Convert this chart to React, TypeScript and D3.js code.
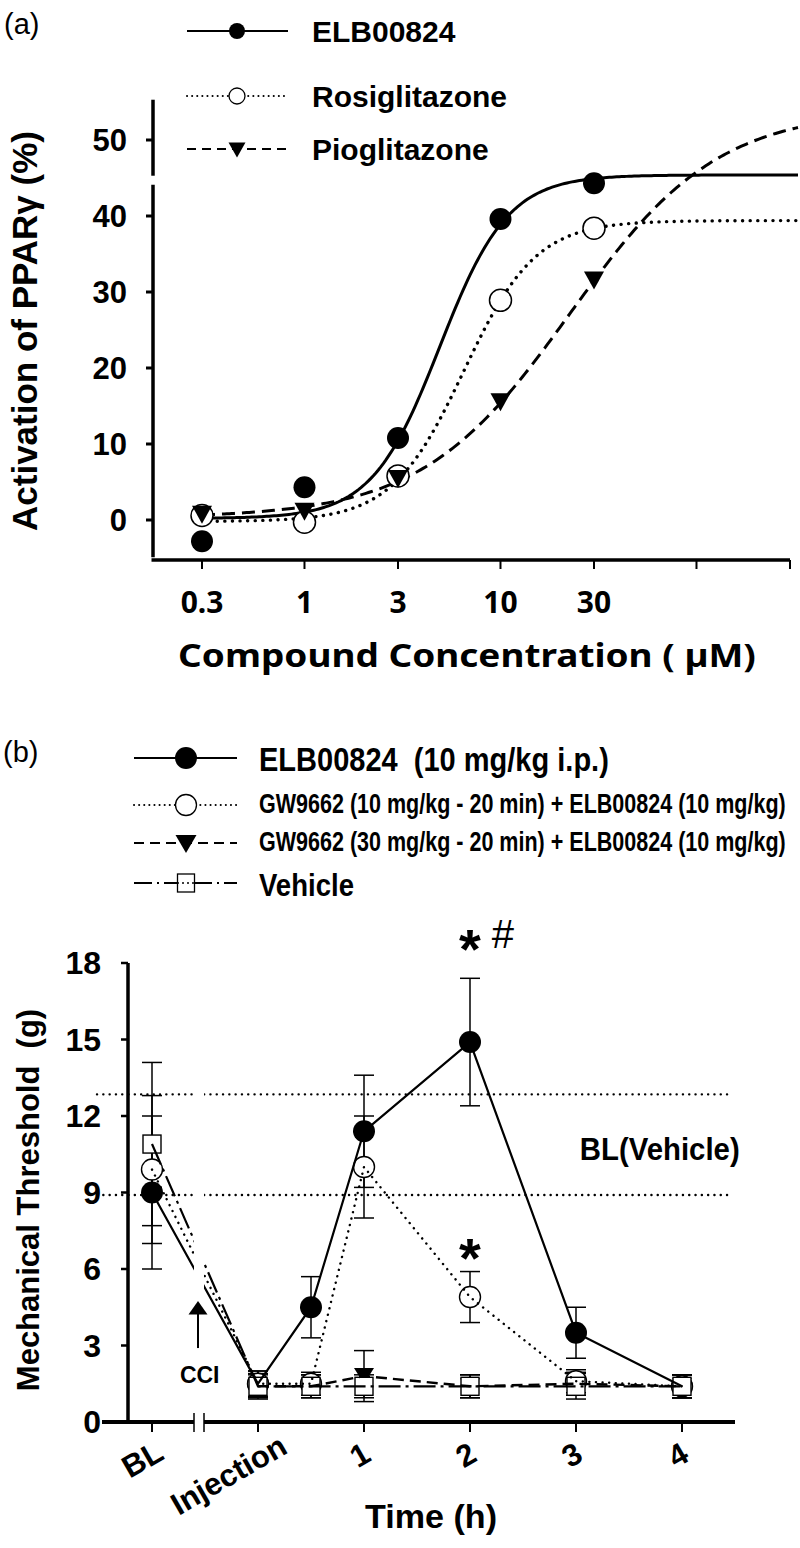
import React, { useLayoutEffect, useRef, useState } from "react";
import * as d3 from "d3";

// ---------- Panel (a) data ----------
const concentrations = [0.3, 1, 3, 10, 30];
const concTickValues = [0.3, 1, 3, 10, 30, 100, 300];
const concTickLabels = ["0.3", "1", "3", "10", "30", "", ""];
const elbActivation = [-2.8, 4.3, 10.8, 39.6, 44.3];
const rosiActivation = [0.6, -0.3, 5.8, 28.9, 38.4];
const pioActivation = [0.7, 1.1, 5.4, 15.5, 31.5];
// fitted 4-parameter logistic curves: [bottom, top, EC50, hill]
const elbFit = [0.2, 45.4, 4.9, 2.5];
const rosiFit = [-0.2, 39.4, 6.5, 2.36];
const pioFit = [0.3, 54, 22.6, 1.15];
const activationTicks = [0, 10, 20, 30, 40, 50];
const legendA = ["ELB00824", "Rosiglitazone", "Pioglitazone"];

// ---------- Panel (b) data ----------
const timeTickValues = [-1, 0, 1, 2, 3, 4];
const timeTickLabels = ["BL", "Injection", "1", "2", "3", "4"];
const times = [-1, 0, 0.5, 1, 2, 3, 4];
const elbB = [9.0, 1.5, 4.5, 11.4, 14.9, 3.5, 1.4];
const elbBErr = [3.0, 0.5, 1.2, 2.2, 2.5, 1.0, 0.45];
const gw10B = [9.9, 1.5, 1.5, 10.0, 4.9, 1.6, 1.4];
const gw10BErr = [2.9, 0.5, 0.45, 2.0, 1.0, 0.45, 0.45];
const gw30B = [null, 1.4, 1.4, 1.8, 1.4, 1.5, 1.4];
const gw30BErr = [null, 0.45, 0.45, 1.0, 0.45, 0.45, 0.45];
const vehB = [10.9, 1.4, 1.4, 1.4, 1.4, 1.4, 1.4];
const vehBErr = [3.2, 0.5, 0.45, 0.45, 0.45, 0.5, 0.45];
const thresholdTicks = [0, 3, 6, 9, 12, 15, 18];
const blVehicleBand = [8.9, 12.85];
const legendB = [
  "ELB00824  (10 mg/kg i.p.)",
  "GW9662 (10 mg/kg - 20 min) + ELB00824 (10 mg/kg)",
  "GW9662 (30 mg/kg - 20 min) + ELB00824 (10 mg/kg)",
  "Vehicle",
];

const SANS = "'Liberation Sans', Arial, Helvetica, sans-serif";
const NARROW = "'Liberation Sans Narrow', 'Arial Narrow', 'Liberation Sans', Arial, sans-serif";
const GOTHIC = "'Noto Sans', 'Open Sans', sans-serif";

const logistic = (p: number[]) => (x: number) => p[0] + (p[1] - p[0]) / (1 + Math.pow(p[2] / x, p[3]));

function triDown(cx: number, cy: number, w: number, h: number) {
  return `M${cx - w / 2},${cy - h / 2}L${cx + w / 2},${cy - h / 2}L${cx},${cy + h / 2}Z`;
}

// text squeezed horizontally to a target width (measured after mount)
function FitText(props: {
  x: number;
  y: number;
  width: number;
  anchor?: string;
  family: string;
  size: number;
  weight?: string;
  children: string;
}) {
  const ref = useRef<SVGTextElement>(null);
  const [s, setS] = useState(1);
  useLayoutEffect(() => {
    if (ref.current) {
      const w = ref.current.getComputedTextLength();
      if (w > 0) setS(props.width / w);
    }
  }, [props.width, props.children]);
  return (
    <text
      ref={ref}
      transform={`translate(${props.x},${props.y}) scale(${s},1)`}
      textAnchor={props.anchor || "start"}
      fontFamily={props.family}
      fontSize={props.size}
      fontWeight={props.weight || "bold"}
      style={{ whiteSpace: "pre" }}
    >
      {props.children}
    </text>
  );
}

// rotated tick label, placed by its centre which shifts with the label length
function RotLabel(props: { x: number; y: number; children: string }) {
  const ref = useRef<SVGTextElement>(null);
  const [len, setLen] = useState(0);
  useLayoutEffect(() => {
    if (ref.current) setLen(ref.current.getComputedTextLength());
  }, [props.children]);
  const cx = props.x - 0.23 * len;
  const cy = props.y + 0.18 * len;
  return (
    <text
      ref={ref}
      transform={`translate(${cx},${cy}) rotate(-30)`}
      textAnchor="middle"
      dominantBaseline="central"
      fontFamily={NARROW}
      fontWeight="bold"
      fontSize={31}
    >
      {props.children}
    </text>
  );
}

export default function App() {
  // ---- scales panel a ----
  const xA = d3.scaleLog().domain([0.3, 300]).range([202, 790]);
  const yA = d3.scaleLinear().domain([0, 50]).range([520, 140]);
  const axisLeftA = 153;
  const axisBottomA = 560;

  const lo = Math.log10(0.3);
  const hi = Math.log10(xA.invert(798));
  const curveXs = d3.range(0, 241).map((i) => Math.pow(10, lo + (i / 240) * (hi - lo)));
  const curvePath = (p: number[]) =>
    d3
      .line<number>()
      .x((d) => xA(d))
      .y((d) => yA(logistic(p)(d)))(curveXs) || "";

  // ---- scales panel b ----
  const xB = d3.scaleLinear().domain([-1, 4]).range([152, 682]);
  const yB = d3.scaleLinear().domain([0, 18]).range([1422, 963]);
  const axisLeftB = 128;
  const breakL = 194;
  const breakR = 204;

  const seriesLine = (vals: (number | null)[]) =>
    d3
      .line<number>()
      .defined((i) => vals[i] != null)
      .x((i) => xB(times[i]))
      .y((i) => yB(vals[i] as number))(times.map((_, i) => i)) || "";

  const errorBars = (vals: (number | null)[], errs: (number | null)[], key: string) =>
    times.map((t, i) => {
      const v = vals[i];
      const e = errs[i];
      if (v == null || e == null) return null;
      const x = xB(t);
      return (
        <g key={key + i} stroke="#000" strokeWidth={1.5}>
          <line x1={x} x2={x} y1={yB(v - e)} y2={yB(v + e)} />
          <line x1={x - 10} x2={x + 10} y1={yB(v + e)} y2={yB(v + e)} />
          <line x1={x - 10} x2={x + 10} y1={yB(v - e)} y2={yB(v - e)} />
        </g>
      );
    });

  const legendRowsB = [758, 805, 843, 883];
  const legendRowsA = [31, 96, 149];

  return (
    <svg width={800} height={1548} style={{ position: "absolute", left: 0, top: 0, background: "#fff" }}>
      <rect x={0} y={0} width={800} height={1548} fill="#fff" />
      <defs>
        <clipPath id="brkClip">
          <rect x={0} y={0} width={breakL} height={1548} />
          <rect x={breakR} y={0} width={800 - breakR} height={1548} />
        </clipPath>
      </defs>

      {/* ================= PANEL (a) ================= */}
      <text x={4} y={34} fontFamily={SANS} fontSize={29}>(a)</text>

      {/* legend a */}
      {legendA.map((lab, i) => {
        const y = legendRowsA[i];
        const dash = i === 0 ? undefined : i === 1 ? "0.1 5" : "9 6";
        return (
          <g key={lab}>
            <line x1={187} x2={288} y1={y} y2={y} stroke="#000" strokeWidth={2} strokeDasharray={dash} strokeLinecap={i === 1 ? "round" : "butt"} />
            {i === 0 && <circle cx={237} cy={y} r={8} fill="#000" />}
            {i === 1 && <circle cx={237} cy={y} r={8} fill="#fff" stroke="#000" strokeWidth={1.3} />}
            {i === 2 && <path d={triDown(237, y + 1, 17, 15)} fill="#000" />}
            <text x={312} y={y + 11} fontFamily={SANS} fontWeight="bold" fontSize={30}>{lab}</text>
          </g>
        );
      })}

      {/* y axis a with break */}
      <line x1={axisLeftA} x2={axisLeftA} y1={yA(-4.9)} y2={yA(44.1)} stroke="#000" strokeWidth={3.5} />
      <line x1={axisLeftA} x2={axisLeftA} y1={yA(45.3)} y2={yA(55.3)} stroke="#000" strokeWidth={3.5} />
      {activationTicks.map((t) => (
        <g key={"ya" + t}>
          <line x1={axisLeftA - 7} x2={axisLeftA} y1={yA(t)} y2={yA(t)} stroke="#000" strokeWidth={3} />
          <text x={127} y={yA(t) + 11} textAnchor="end" fontFamily={SANS} fontWeight="bold" fontSize={31}>{t}</text>
        </g>
      ))}
      <text
        transform={`translate(37,${331}) rotate(-90)`}
        textAnchor="middle"
        fontFamily={SANS}
        fontWeight="bold"
        fontSize={35}
      >
        Activation of PPARγ (%)
      </text>

      {/* x axis a */}
      <line x1={axisLeftA - 1.5} x2={790} y1={axisBottomA} y2={axisBottomA} stroke="#000" strokeWidth={3.5} />
      {concTickValues.map((c, i) => (
        <g key={"xa" + c}>
          <line x1={xA(c)} x2={xA(c)} y1={axisBottomA} y2={axisBottomA + 9} stroke="#000" strokeWidth={2} />
          {concTickLabels[i] && (
            <text x={xA(c)} y={613} textAnchor="middle" fontFamily={GOTHIC} fontWeight="bold" fontSize={30}>{concTickLabels[i]}</text>
          )}
        </g>
      ))}
      <FitText x={467} y={667} width={578} anchor="middle" family={GOTHIC} size={33}>
        Compound Concentration ( µM)
      </FitText>

      {/* curves a */}
      <path d={curvePath(pioFit)} fill="none" stroke="#000" strokeWidth={3} strokeDasharray="13 7" />
      <path d={curvePath(rosiFit)} fill="none" stroke="#000" strokeWidth={3.4} strokeDasharray="0.1 7.5" strokeLinecap="round" />
      <path d={curvePath(elbFit)} fill="none" stroke="#000" strokeWidth={3} />

      {/* markers a */}
      {concentrations.map((c, i) => (
        <circle key={"ro" + i} cx={xA(c)} cy={yA(rosiActivation[i])} r={11} fill="#fff" stroke="#000" strokeWidth={1.5} />
      ))}
      {concentrations.map((c, i) => (
        <path key={"pi" + i} d={triDown(xA(c), yA(pioActivation[i]), 20, 18)} fill="#000" />
      ))}
      {concentrations.map((c, i) => (
        <circle key={"el" + i} cx={xA(c)} cy={yA(elbActivation[i])} r={11} fill="#000" />
      ))}

      {/* ================= PANEL (b) ================= */}
      <text x={3} y={762} fontFamily={SANS} fontSize={29}>(b)</text>

      {/* legend b */}
      {legendB.map((lab, i) => {
        const y = legendRowsB[i];
        const dashes = [undefined, "0.1 5", "10 6", "18 5 2 5"];
        const sizes = [34, 27, 27, 31];
        const lens = [350, 527, 527, 95];
        const base = [13, 8, 8, 13];
        return (
          <g key={lab}>
            <line x1={134} x2={237} y1={y} y2={y} stroke="#000" strokeWidth={2} strokeDasharray={dashes[i]} strokeLinecap={i === 1 ? "round" : "butt"} />
            {i === 0 && <circle cx={186} cy={y} r={11} fill="#000" />}
            {i === 1 && <circle cx={186} cy={y} r={10.5} fill="#fff" stroke="#000" strokeWidth={1.3} />}
            {i === 2 && <path d={triDown(186, y + 1, 21, 18)} fill="#000" />}
            {i === 3 && (
              <g>
                <rect x={177.5} y={y - 9} width={17} height={18} fill="#fff" stroke="#000" strokeWidth={1.3} />
                <line x1={177} x2={195} y1={y} y2={y} stroke="#000" strokeWidth={1.5} strokeDasharray="2 3" />
              </g>
            )}
            <FitText x={259} y={y + base[i]} width={lens[i]} family={NARROW} size={sizes[i]}>
              {lab}
            </FitText>
          </g>
        );
      })}

      {/* y axis b */}
      <line x1={axisLeftB} x2={axisLeftB} y1={yB(0)} y2={yB(18)} stroke="#000" strokeWidth={3.5} />
      {thresholdTicks.map((t) => (
        <g key={"yb" + t}>
          <line x1={axisLeftB - 7} x2={axisLeftB} y1={yB(t)} y2={yB(t)} stroke="#000" strokeWidth={2.5} />
          <text x={101} y={yB(t) + 11} textAnchor="end" fontFamily={SANS} fontWeight="bold" fontSize={32}>{t}</text>
        </g>
      ))}
      <text
        transform={`translate(39,${1200}) rotate(-90)`}
        textAnchor="middle"
        fontFamily={SANS}
        fontWeight="bold"
        fontSize={31}
        style={{ whiteSpace: "pre" }}
      >
        {"Mechanical Threshold  (g)"}
      </text>

      {/* x axis b with break */}
      <line x1={102} x2={breakL} y1={yB(0)} y2={yB(0)} stroke="#000" strokeWidth={4} />
      <line x1={breakR} x2={xB(4.5)} y1={yB(0)} y2={yB(0)} stroke="#000" strokeWidth={4} />
      <line x1={breakL} x2={breakL} y1={yB(0) - 9} y2={yB(0) + 10} stroke="#000" strokeWidth={1.5} />
      <line x1={breakR} x2={breakR} y1={yB(0) - 9} y2={yB(0) + 10} stroke="#000" strokeWidth={1.5} />
      {timeTickValues.map((t, i) => (
        <g key={"xb" + t}>
          <line x1={xB(t)} x2={xB(t)} y1={yB(0)} y2={yB(0) + 10} stroke="#000" strokeWidth={2} />
          <RotLabel x={xB(t)} y={1452}>{timeTickLabels[i]}</RotLabel>
        </g>
      ))}
      <FitText x={431} y={1528} width={132} anchor="middle" family={NARROW} size={34}>
        Time (h)
      </FitText>

      {/* BL(Vehicle) band */}
      <g clipPath="url(#brkClip)">
        {blVehicleBand.map((v) => (
          <line key={"bl" + v} x1={97} x2={730} y1={yB(v)} y2={yB(v)} stroke="#000" strokeWidth={2.4} strokeDasharray="0.1 6.2" strokeLinecap="round" />
        ))}
      </g>
      <FitText x={xB(3.79)} y={yB(10.27)} width={160} anchor="middle" family={NARROW} size={31}>
        BL(Vehicle)
      </FitText>

      {/* CCI arrow */}
      <line x1={xB(-0.566)} x2={xB(-0.566)} y1={yB(2.9)} y2={yB(4.3)} stroke="#000" strokeWidth={2} />
      <path d={`M${xB(-0.566) - 9.5},${yB(4.22)}L${xB(-0.566) + 9.5},${yB(4.22)}L${xB(-0.566)},${yB(4.75)}Z`} fill="#000" />
      <text x={xB(-0.55)} y={yB(1.53)} textAnchor="middle" fontFamily={SANS} fontWeight="bold" fontSize={23}>CCI</text>

      {/* error bars */}
      {errorBars(vehB, vehBErr, "ev")}
      {errorBars(gw30B, gw30BErr, "e30")}
      {errorBars(gw10B, gw10BErr, "e10")}
      {errorBars(elbB, elbBErr, "ee")}

      {/* markers b: filled circles underneath, open symbols on top */}
      {times.map((t, i) => (
        <circle key={"fc" + i} cx={xB(t)} cy={yB(elbB[i])} r={11} fill="#000" />
      ))}
      {times.map((t, i) =>
        gw30B[i] == null ? null : <path key={"tr" + i} d={triDown(xB(t), yB(gw30B[i] as number), 20, 16)} fill="#000" />
      )}
      {times.map((t, i) => (
        <circle key={"oc" + i} cx={xB(t)} cy={yB(gw10B[i])} r={10.5} fill="#fff" stroke="#000" strokeWidth={1.4} />
      ))}
      {times.map((t, i) => (
        <rect key={"sq" + i} x={xB(t) - 9} y={yB(vehB[i]) - 9} width={18} height={18} fill="#fff" stroke="#000" strokeWidth={1.4} />
      ))}

      {/* series lines b */}
      <g clipPath="url(#brkClip)" fill="none" stroke="#000">
        <path d={seriesLine(vehB)} strokeWidth={2.2} strokeDasharray="22 5 3 5" />
        <path d={seriesLine(gw30B)} strokeWidth={2.4} strokeDasharray="11 6" />
        <path d={seriesLine(gw10B)} strokeWidth={2.4} strokeDasharray="0.1 6.5" strokeLinecap="round" />
        <path d={seriesLine(elbB)} strokeWidth={2.2} />
      </g>

      {/* significance marks */}
      <text x={xB(2)} y={yB(19.06) + 32} textAnchor="middle" fontFamily={SANS} fontWeight="bold" fontSize={56}>*</text>
      <text x={xB(2.31)} y={yB(18.6)} textAnchor="middle" fontFamily={SANS} fontSize={40}>#</text>
      <text x={xB(2)} y={yB(6.94) + 32} textAnchor="middle" fontFamily={SANS} fontWeight="bold" fontSize={56}>*</text>
    </svg>
  );
}
